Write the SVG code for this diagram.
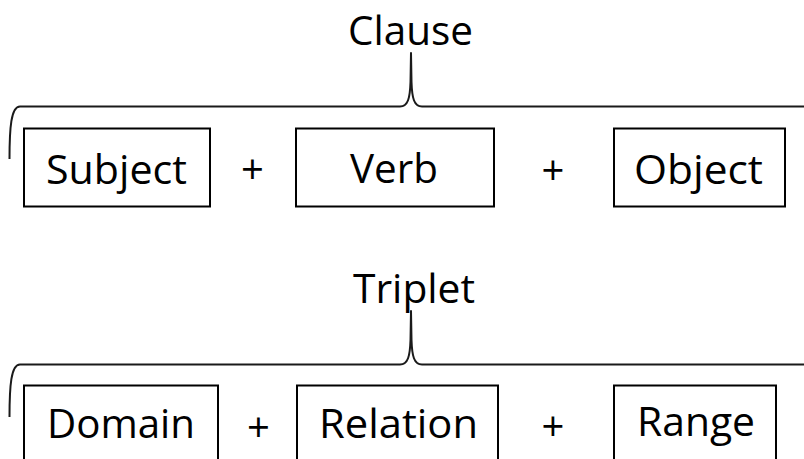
<svg xmlns="http://www.w3.org/2000/svg" width="804" height="459" viewBox="0 0 804 459">
  <style>
    .box { fill: #ffffff; stroke: #000000; stroke-width: 2; }
    .brace { fill: none; stroke: #1a1a1a; stroke-width: 2; stroke-linejoin: round; }
    .lbl { font-family: "Open Sans", "Noto Sans", "Liberation Sans", sans-serif; font-size: 40px; fill: #000000; text-anchor: middle; }
  </style>
  <rect width="804" height="459" fill="#ffffff"/>

  <!-- Clause row -->
  <g id="clause">
    <text class="lbl" x="410.5" y="45" textLength="125" lengthAdjust="spacingAndGlyphs">Clause</text>
  </g>
  <g id="connectors-clause">
    <path class="brace" d="M 9.5 159 C 9.5 128 11 106.5 20 106.5 L 400 106.5 C 408 106.5 410 98 410.5 82 L 411 53 L 411.5 82 C 412 98 414 106.5 422 106.5 L 806 106.5"/>
  </g>
  <g id="subject">
    <rect class="box" x="24" y="128.5" width="186" height="78"/>
    <text class="lbl" x="116.5" y="184" textLength="141" lengthAdjust="spacingAndGlyphs">Subject</text>
  </g>
  <g id="plus-1">
    <text class="lbl" x="252.5" y="184">+</text>
  </g>
  <g id="verb">
    <rect class="box" x="296" y="128.5" width="198" height="78"/>
    <text class="lbl" x="394" y="183" textLength="88" lengthAdjust="spacingAndGlyphs">Verb</text>
  </g>
  <g id="plus-2">
    <text class="lbl" x="553" y="185">+</text>
  </g>
  <g id="object">
    <rect class="box" x="614" y="128.5" width="171" height="78"/>
    <text class="lbl" x="698.5" y="184" textLength="129" lengthAdjust="spacingAndGlyphs">Object</text>
  </g>

  <!-- Triplet row -->
  <g id="triplet">
    <text class="lbl" x="414" y="303" textLength="122" lengthAdjust="spacingAndGlyphs">Triplet</text>
  </g>
  <g id="connectors-triplet">
    <path class="brace" d="M 9.5 417 C 9.5 386 11 364.5 20 364.5 L 400 364.5 C 408 364.5 410 356 410.5 340 L 411 311 L 411.5 340 C 412 356 414 364.5 422 364.5 L 806 364.5"/>
  </g>
  <g id="domain">
    <rect class="box" x="24" y="385.5" width="194" height="90"/>
    <text class="lbl" x="121" y="438" textLength="148" lengthAdjust="spacingAndGlyphs">Domain</text>
  </g>
  <g id="plus-3">
    <text class="lbl" x="258.5" y="442">+</text>
  </g>
  <g id="relation">
    <rect class="box" x="297" y="385.5" width="201" height="90"/>
    <text class="lbl" x="398.5" y="438" textLength="159" lengthAdjust="spacingAndGlyphs">Relation</text>
  </g>
  <g id="plus-4">
    <text class="lbl" x="553" y="441">+</text>
  </g>
  <g id="range">
    <rect class="box" x="614" y="385.5" width="162" height="90"/>
    <text class="lbl" x="696" y="436" textLength="118" lengthAdjust="spacingAndGlyphs">Range</text>
  </g>
</svg>
